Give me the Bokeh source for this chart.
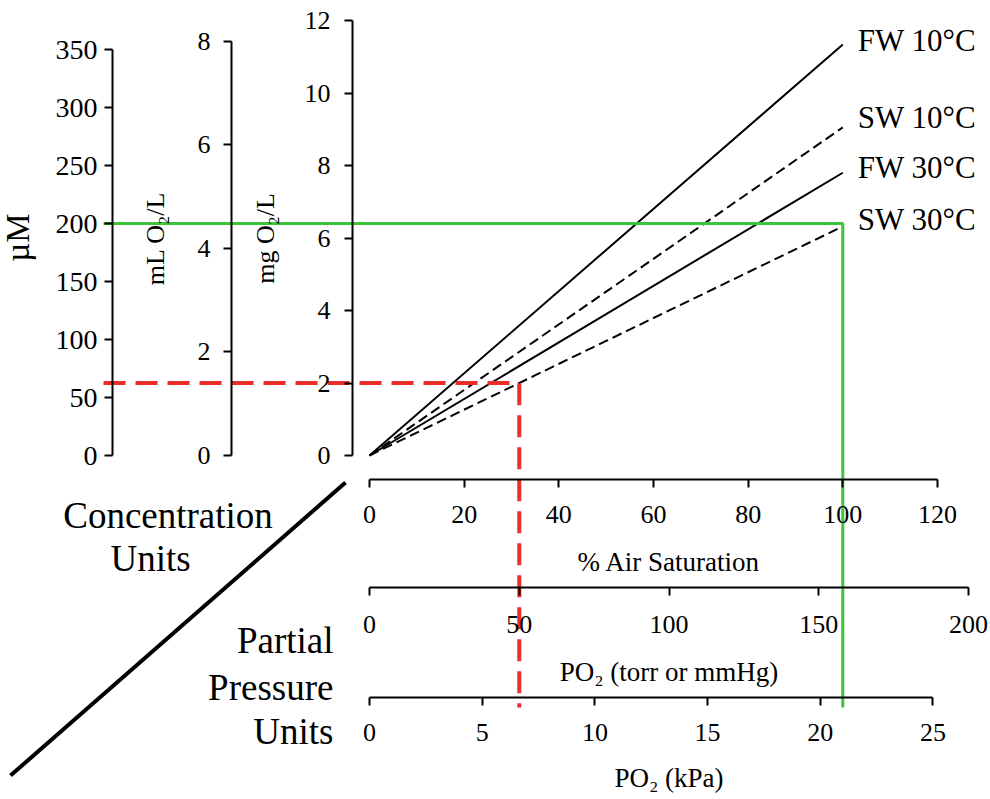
from bokeh.plotting import figure
from bokeh.models import Range1d, LinearAxis, FixedTicker, ColumnDataSource
from bokeh.core.properties import value
from bokeh.embed import file_html
from bokeh.resources import INLINE

# ---------------- data ----------------
air_sat = [0, 50, 100]                 # % air saturation
fw_10 = [0, 5.67, 11.34]               # mg O2/L
sw_10 = [0, 4.52, 9.05]
fw_30 = [0, 3.9, 7.8]
sw_30 = [0, 3.16, 6.32]
series_labels = ["FW 10°C", "SW 10°C", "FW 30°C", "SW 30°C"]

# unit conversions
UM_PER_MG = 31.25      # µM per mg O2/L
ML_PER_MG = 0.70       # mL O2/L per mg O2/L
TORR_PER_PCT = 1.58    # torr per % air saturation
KPA_PER_PCT = 0.21     # kPa per % air saturation

pct_ticks = [0, 20, 40, 60, 80, 100, 120]
mg_ticks = [0, 2, 4, 6, 8, 10, 12]
ml_ticks = [0, 2, 4, 6, 8]
um_ticks = [0, 50, 100, 150, 200, 250, 300, 350]
torr_ticks = [0, 50, 100, 150, 200]
kpa_ticks = [0, 5, 10, 15, 20, 25]

# guide examples
green_um = 200      # µM at 100 % air saturation
green_pct = 100
red_mg = 2.0        # mg O2/L
red_torr = 50       # torr

FONT = "Liberation Serif"

# ---------------- layout helpers ----------------
W, H = 990, 799
PX_PER_PCT = 4.733
PX_PER_MG = 36.25
X_ORIGIN = 369     # pixel column of 0 % air saturation
Y_ORIGIN = 455     # pixel row of 0 mg O2/L


def xr(l, r, k=1.0):
    return Range1d((l - X_ORIGIN) / PX_PER_PCT * k, (r - X_ORIGIN) / PX_PER_PCT * k)


def yr(t, b, k=1.0):
    return Range1d((Y_ORIGIN - b) / PX_PER_MG * k, (Y_ORIGIN - t) / PX_PER_MG * k)


def make_fig(l, t, r, b, xk=1.0, yk=1.0, base=False, shift=0):
    # shift: canvas starts `shift` px left of the page edge (extra room for wide axis panels)
    f = figure(width=W + shift, height=H, x_range=xr(l, r, xk), y_range=yr(t, b, yk),
               output_backend="svg", toolbar_location=None,
               x_axis_location=None, y_axis_location=None,
               min_border_left=l + shift, min_border_right=W - r,
               min_border_top=t, min_border_bottom=H - b)
    f.outline_line_color = None
    f.grid.visible = False
    if base:
        f.background_fill_color = "white"
        f.border_fill_color = "white"
    else:
        f.background_fill_color = None
        f.border_fill_color = None
        f.styles = {"position": "absolute", "left": f"{-shift}px", "top": "0px"}
    return f


def style(ax, ticks, label, fs_tick, fs_label, tick_standoff, label_standoff):
    ax.ticker = FixedTicker(ticks=ticks)
    ax.bounds = (ticks[0], ticks[-1])
    ax.axis_label = label
    ax.axis_line_width = 2
    ax.axis_line_color = "black"
    ax.major_tick_line_width = 2
    ax.major_tick_line_color = "black"
    ax.major_tick_out = 8
    ax.major_tick_in = 0
    ax.minor_tick_line_color = None
    ax.major_label_text_font = FONT
    ax.major_label_text_color = "black"
    ax.major_label_text_font_size = f"{fs_tick}px"
    ax.axis_label_text_font = FONT
    ax.axis_label_text_color = "black"
    ax.axis_label_text_font_style = "normal"
    ax.axis_label_text_font_size = f"{fs_label}px"
    ax.major_label_standoff = tick_standoff
    ax.axis_label_standoff = label_standoff
    return ax


# ---------------- base figure: curves, guides, captions ----------------
p = make_fig(0, 0, W, H, base=True)

p.line(air_sat, fw_10, line_color="black", line_width=2)
p.line(air_sat, sw_10, line_color="black", line_width=2, line_dash="10 5")
p.line(air_sat, fw_30, line_color="black", line_width=2)
p.line(air_sat, sw_30, line_color="black", line_width=2, line_dash="10 5")

lab_src = ColumnDataSource(dict(
    x=[air_sat[-1]] * 4,
    y=[fw_10[-1], sw_10[-1], fw_30[-1], sw_30[-1]],
    text=series_labels,
    dy=[-3.5, -9.5, -5.5, -6.5],
))
p.text(x="x", y="y", text="text", source=lab_src, x_offset=15, y_offset="dy",
       text_font=value(FONT), text_font_size="31px", text_baseline="middle",
       text_align="left", text_color="black")

GREEN = "#3ec43a"
RED = "#e8302a"
LEFT_END = -56.2     # guide lines start just left of the µM axis (% units)
BOTTOM_END = -6.95   # guide lines end just below the kPa axis (mg units)
g_mg = green_um / UM_PER_MG
r_pct = red_torr / TORR_PER_PCT

p.line([LEFT_END, r_pct, r_pct], [red_mg, red_mg, BOTTOM_END],
       line_color=RED, line_width=4, line_dash="22 10")
p.line([LEFT_END, green_pct, green_pct], [g_mg, g_mg, BOTTOM_END],
       line_color=GREEN, line_width=3)

# diagonal separator between concentration and partial-pressure units
p.segment(x0=[-75.85], y0=[-8.83], x1=[-5.07], y1=[-0.745], line_color="black", line_width=4)

p.text(x=[-42.57, -46.27], y=[-1.655, -2.841], text=["Concentration", "Units"],
       text_font=value(FONT), text_font_size="37px", text_align="center",
       text_baseline="alphabetic", text_color="black")
p.text(x=[-7.61, -7.61, -7.61], y=[-5.103, -6.40, -7.614], text=["Partial", "Pressure", "Units"],
       text_font=value(FONT), text_font_size="37px", text_align="right",
       text_baseline="alphabetic", text_color="black")

# ---------------- axis figures (overlaid, transparent) ----------------
f_mg = make_fig(352, 19, 982, 457)
f_mg.add_layout(style(LinearAxis(), mg_ticks, "mg O₂/L", 26, 26, 14, 22), "left")

f_ml = make_fig(231, 19, 982, 457, yk=ML_PER_MG)
f_ml.add_layout(style(LinearAxis(), ml_ticks, "mL O₂/L", 26, 26, 13, 25), "left")

f_um = make_fig(112, 17, 982, 457, yk=UM_PER_MG, shift=40)
f_um.add_layout(style(LinearAxis(), um_ticks, "µM", 28, 33, 7, 17), "left")

f_pct = make_fig(355, 20, 982, 479)
f_pct.add_layout(style(LinearAxis(), pct_ticks, "% Air Saturation", 26, 27, 18, 21), "below")

f_torr = make_fig(355, 20, 982, 587, xk=TORR_PER_PCT)
f_torr.add_layout(style(LinearAxis(), torr_ticks, "PO₂ (torr or mmHg)", 26, 27, 20, 21), "below")

f_kpa = make_fig(355, 20, 982, 697, xk=KPA_PER_PCT)
f_kpa.add_layout(style(LinearAxis(), kpa_ticks, "PO₂ (kPa)", 26, 27, 18, 19), "below")

roots = [p, f_mg, f_ml, f_um, f_pct, f_torr, f_kpa]
open("out.html", "w").write(file_html(roots, INLINE))
